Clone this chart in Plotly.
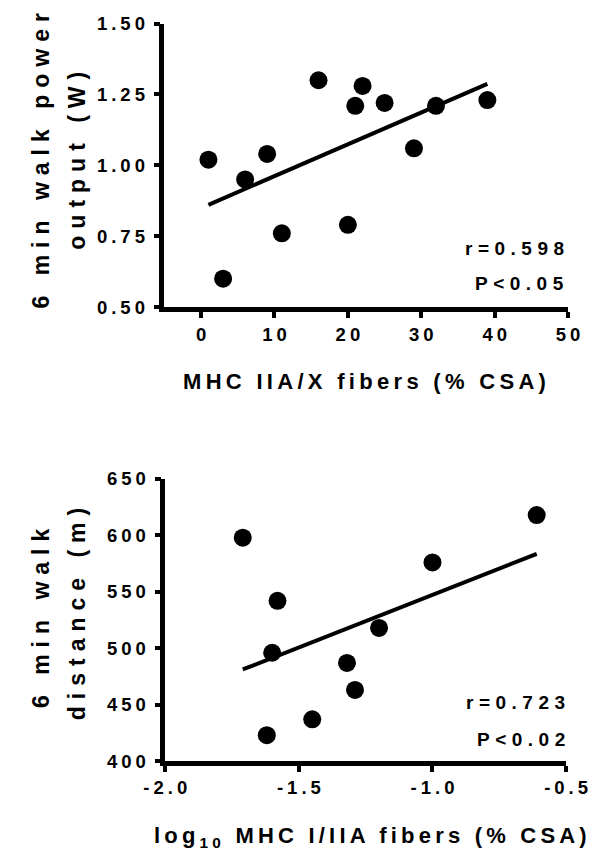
import numpy as np
import plotly.graph_objects as go

# top panel: MHC IIA/X fibres (% CSA) vs 6 min walk power output (W)
iiax_pct = [1, 3, 6, 9, 11, 16, 20, 21, 22, 25, 29, 32, 39]
power_w = [1.02, 0.60, 0.95, 1.04, 0.76, 1.30, 0.79, 1.21, 1.28, 1.22, 1.06, 1.21, 1.23]

# bottom panel: log10 MHC I/IIA fibres (% CSA) vs 6 min walk distance (m)
log_i_iia = [-1.71, -0.61, -1.58, -1.60, -1.00, -1.20, -1.32, -1.29, -1.45, -1.62]
distance_m = [598, 618, 542, 496, 576, 518, 487, 463, 437, 423]

top_xticks = [0, 10, 20, 30, 40, 50]
top_xlabels = ["0", "10", "20", "30", "40", "50"]
top_yticks = [0.50, 0.75, 1.00, 1.25, 1.50]
top_ylabels = ["0.50", "0.75", "1.00", "1.25", "1.50"]
bot_xticks = [-2.0, -1.5, -1.0, -0.5]
bot_xlabels = ["-2.0", "-1.5", "-1.0", "-0.5"]
bot_yticks = [400, 450, 500, 550, 600, 650]
bot_ylabels = ["400", "450", "500", "550", "600", "650"]

FONT = "Liberation Sans, Arial, sans-serif"


def spaced(text, px):
    """Prism-like wide letter spacing; last char left out so no trailing gap."""
    if len(text) < 2:
        return text
    return f'<span style="letter-spacing:{px}px">{text[:-1]}</span>{text[-1]}'


def fit_line(x, y):
    slope, icpt = np.polyfit(x, y, 1)
    xs = np.array([min(x), max(x)])
    return xs, slope * xs + icpt


axis_style = dict(
    showline=True,
    linecolor="black",
    linewidth=4.5,
    ticks="outside",
    ticklen=6,
    tickwidth=4,
    tickcolor="black",
    showgrid=False,
    zeroline=False,
    tickfont=dict(family=FONT, size=18.5, color="black", weight="bold"),
    tickmode="array",
)

fig = go.Figure()
for xv, yv, xa, ya in [
    (iiax_pct, power_w, "x", "y"),
    (log_i_iia, distance_m, "x2", "y2"),
]:
    fig.add_trace(go.Scatter(
        x=xv, y=yv, mode="markers", xaxis=xa, yaxis=ya,
        marker=dict(size=18, color="black"), cliponaxis=False,
    ))
    lx, ly = fit_line(xv, yv)
    fig.add_trace(go.Scatter(
        x=lx, y=ly, mode="lines", xaxis=xa, yaxis=ya,
        line=dict(color="black", width=4),
    ))

fig.update_layout(
    width=600,
    height=852,
    margin=dict(l=0, r=0, t=0, b=0),
    paper_bgcolor="white",
    plot_bgcolor="white",
    showlegend=False,
    xaxis=dict(axis_style, domain=[0.2417, 0.9678], range=[-5, 50], anchor="y",
               tickvals=top_xticks, ticktext=[spaced(t, 4) for t in top_xlabels],
               ticklabelstandoff=1),
    yaxis=dict(axis_style, domain=[0.6534, 0.9945], range=[0.5, 1.5], anchor="x",
               tickvals=top_yticks, ticktext=[spaced(t, 4) for t in top_ylabels],
               ticklabelstandoff=5),
    xaxis2=dict(axis_style, domain=[0.2433, 0.9642], range=[-2.0, -0.5], anchor="y2",
                tickvals=bot_xticks, ticktext=[spaced(t, 4) for t in bot_xlabels],
                ticklabelstandoff=0),
    yaxis2=dict(axis_style, domain=[0.1070, 0.4465], range=[400, 650], anchor="x2",
                tickvals=bot_yticks, ticktext=[spaced(t, 4) for t in bot_ylabels],
                ticklabelstandoff=5),
)

title_font = dict(family=FONT, size=23, color="black", weight="bold")
xtitle_font = dict(family=FONT, size=22, color="black", weight="bold")
stat_font = dict(family=FONT, size=19, color="black", weight="bold")

annotations = [
    # y titles (two lines each)
    dict(text=spaced("6 min walk power", 7), x=12 / 600, y=0.8298, textangle=-90, font=title_font),
    dict(text=spaced("output (W)", 7), x=51 / 600, y=0.8298, textangle=-90, font=title_font),
    dict(text=spaced("6 min walk", 7), x=12 / 600, y=0.2793, textangle=-90, font=title_font),
    dict(text=spaced("distance (m)", 7), x=51 / 600, y=0.2840, textangle=-90, font=title_font),
    # x titles
    dict(text=spaced("MHC IIA/X fibers (% CSA)", 4.3), x=361 / 600, y=0.5637, font=xtitle_font),
    dict(text=spaced("log<sub>10</sub> MHC I/IIA fibers (% CSA)", 4.2), x=367 / 600, y=0.016,
         font=xtitle_font),
    # statistics
    dict(text=spaced("r=0.598", 5.5), x=578 / 600, y=0.7237, xanchor="right", font=stat_font),
    dict(text=spaced("P<0.05", 5.5), x=578 / 600, y=0.6815, xanchor="right", font=stat_font),
    dict(text=spaced("r=0.723", 5.5), x=579 / 600, y=0.1779, xanchor="right", font=stat_font),
    dict(text=spaced("P<0.02", 5.5), x=579 / 600, y=0.1333, xanchor="right", font=stat_font),
]
for a in annotations:
    a.setdefault("xanchor", "center")
    fig.add_annotation(xref="paper", yref="paper", yanchor="middle", showarrow=False, **a)

fig.write_html("out.html")
